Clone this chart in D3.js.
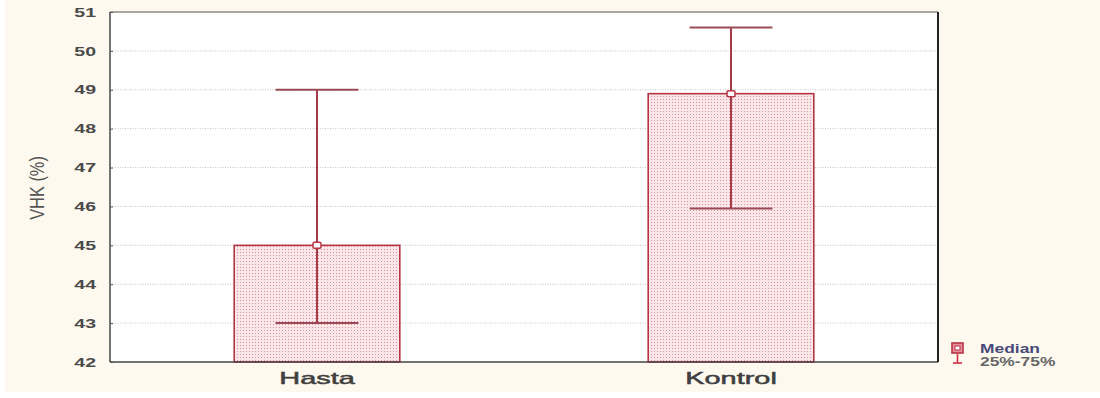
<!DOCTYPE html>
<html>
<head>
<meta charset="utf-8">
<script src="https://cdn.jsdelivr.net/npm/d3@7"></script>
<style>
  body { margin: 0; background: #ffffff; }
  #canvas { width: 1100px; height: 398px; }
</style>
</head>
<body>
<div id="canvas"></div>
<script>
"use strict";

/* === Data === */
let groups = ["Hasta", "Kontrol"];
let medians = [45, 48.9];
let q1s = [43, 45.95];
let q3s = [49, 50.6];
let yTicks = [42, 43, 44, 45, 46, 47, 48, 49, 50, 51];
let legendLabels = ["Median", "25%-75%"];

let svgWidth = 1100;
let svgHeight = 398;
let margin = { top: 12, right: 162, bottom: 36, left: 110 };

let svg = d3.select("#canvas")
  .append("svg")
  .attr("width", svgWidth)
  .attr("height", svgHeight);

// the original picture is stretched sideways, so text is widened too
function stretch(sel, f) {
  sel.each(function () {
    let len = this.getComputedTextLength();
    d3.select(this).attr("textLength", len * f).attr("lengthAdjust", "spacingAndGlyphs");
  });
}

// cream background
svg.append("rect")
  .attr("x", 5).attr("y", 0)
  .attr("width", svgWidth - 5).attr("height", 392)
  .attr("fill", "#fdf9ee");

/* === Pattern for bars === */
let defs = svg.append("defs");
let pat = defs.append("pattern")
  .attr("id", "dots")
  .attr("width", 3).attr("height", 3)
  .attr("patternUnits", "userSpaceOnUse");
pat.append("rect").attr("width", 3).attr("height", 3).attr("fill", "#fae6e8");
pat.append("rect").attr("width", 1).attr("height", 1).attr("fill", "#d8959f");

/* === Scales === */
let xScale = d3.scaleBand()
  .domain(groups)
  .range([margin.left, svgWidth - margin.right]);

let yScale = d3.scaleLinear()
  .domain([42, 51])
  .range([svgHeight - margin.bottom, margin.top]);

let x0 = margin.left, x1 = svgWidth - margin.right;
let y0 = svgHeight - margin.bottom, y1 = margin.top;

// plot area
svg.append("rect")
  .attr("x", x0).attr("y", y1)
  .attr("width", x1 - x0).attr("height", y0 - y1)
  .attr("fill", "#ffffff");

/* === Grid === */
svg.append("g")
  .selectAll("line")
  .data(yTicks.slice(1, -1))
  .enter()
  .append("line")
  .attr("x1", x0).attr("x2", x1)
  .attr("y1", d => yScale(d)).attr("y2", d => yScale(d))
  .attr("stroke", "#c4c4c4")
  .attr("stroke-width", 1)
  .attr("stroke-dasharray", "1,1.5");

/* === Bars === */
let barW = xScale.bandwidth() * 0.4;
let capW = xScale.bandwidth() * 0.2;
let cx = d => xScale(d) + xScale.bandwidth() / 2;

svg.selectAll("rect.bar")
  .data(groups)
  .enter()
  .append("rect")
  .classed("bar", true)
  .attr("x", d => cx(d) - barW / 2)
  .attr("y", (d, i) => yScale(medians[i]))
  .attr("width", barW)
  .attr("height", (d, i) => yScale(42) - yScale(medians[i]))
  .attr("fill", "url(#dots)")
  .attr("stroke", "#b53545")
  .attr("stroke-width", 1.6);

/* === Whiskers === */
groups.forEach((g, i) => {
  let c = cx(g);
  svg.append("line")
    .attr("x1", c).attr("x2", c)
    .attr("y1", yScale(q3s[i])).attr("y2", yScale(q1s[i]))
    .attr("stroke", "#a53a48").attr("stroke-width", 2);
  [q1s[i], q3s[i]].forEach(v => {
    svg.append("line")
      .attr("x1", c - capW / 2).attr("x2", c + capW / 2)
      .attr("y1", yScale(v)).attr("y2", yScale(v))
      .attr("stroke", "#9a4a55").attr("stroke-width", 2);
  });
  svg.append("rect")
    .attr("x", c - 4).attr("y", yScale(medians[i]) - 3)
    .attr("width", 8).attr("height", 6)
    .attr("rx", 1.5)
    .attr("fill", "#ffffff")
    .attr("stroke", "#b53545").attr("stroke-width", 1.5);
});

/* === Frame === */
svg.append("line").attr("x1", x0).attr("x2", x1).attr("y1", y1).attr("y2", y1)
  .attr("stroke", "#8a8a8a").attr("stroke-width", 1.5);
svg.append("line").attr("x1", x0).attr("x2", x1).attr("y1", y0).attr("y2", y0)
  .attr("stroke", "#444").attr("stroke-width", 1.5);
svg.append("line").attr("x1", x0).attr("x2", x0).attr("y1", y1).attr("y2", y0)
  .attr("stroke", "#444").attr("stroke-width", 1.5);
svg.append("line").attr("x1", x1).attr("x2", x1).attr("y1", y1).attr("y2", y0)
  .attr("stroke", "#222").attr("stroke-width", 2);

/* === Y axis labels === */
let yAxis = svg.append("g")
  .attr("transform", `translate(${x0}, 0)`)
  .call(d3.axisLeft(yScale).tickValues(yTicks).tickSize(-3).tickPadding(14).tickFormat(d3.format("d")));
yAxis.select(".domain").remove();
yAxis.selectAll(".tick line").attr("stroke", "#555");
yAxis.selectAll("text")
  .attr("font-family", "Arial, Liberation Sans, sans-serif")
  .attr("font-size", "13px")
  .attr("font-weight", "bold")
  .attr("fill", "#4a4a4a")
  .call(stretch, 1.5);

/* === X axis labels === */
let xAxis = svg.append("g")
  .attr("transform", `translate(0, ${y0})`)
  .call(d3.axisBottom(xScale).tickSize(0).tickPadding(10));
xAxis.select(".domain").remove();
xAxis.selectAll("text")
  .attr("font-family", "Arial, Liberation Sans, sans-serif")
  .attr("font-size", "17px")
  .attr("fill", "#3f3f3f")
  .attr("stroke", "#3f3f3f")
  .attr("stroke-width", 0.5)
  .call(stretch, 1.7);

/* === Y title === */
svg.append("text")
  .attr("transform", "translate(44, 188) rotate(-90)")
  .attr("text-anchor", "middle")
  .attr("font-family", "Arial, Liberation Sans, sans-serif")
  .attr("font-size", "21px")
  .attr("fill", "#555")
  .text("VHK (%)")
  .call(stretch, 0.78);

/* === Legend === */
let legend = svg.append("g").attr("transform", "translate(952, 343)");
legend.append("rect").attr("x", 0).attr("y", 0).attr("width", 11).attr("height", 10)
  .attr("fill", "#e8909c").attr("stroke", "#b53545").attr("stroke-width", 1.6);
legend.append("rect").attr("x", 3).attr("y", 3).attr("width", 5).attr("height", 4)
  .attr("fill", "#fff").attr("stroke", "#b53545").attr("stroke-width", 1);
legend.append("line").attr("x1", 5.5).attr("x2", 5.5).attr("y1", 11).attr("y2", 20)
  .attr("stroke", "#d03040").attr("stroke-width", 1.6);
legend.append("line").attr("x1", 1).attr("x2", 10).attr("y1", 20).attr("y2", 20)
  .attr("stroke", "#d03040").attr("stroke-width", 1.6);
legendLabels.forEach((t, i) => {
  legend.append("text")
    .attr("x", 28).attr("y", 10 + i * 13)
    .attr("font-family", "Arial, Liberation Sans, sans-serif")
    .attr("font-size", "12px")
    .attr("font-weight", "bold")
    .attr("fill", i === 0 ? "#4a4a7a" : "#666")
    .text(t)
    .call(stretch, 1.45);
});
</script>
</body>
</html>
